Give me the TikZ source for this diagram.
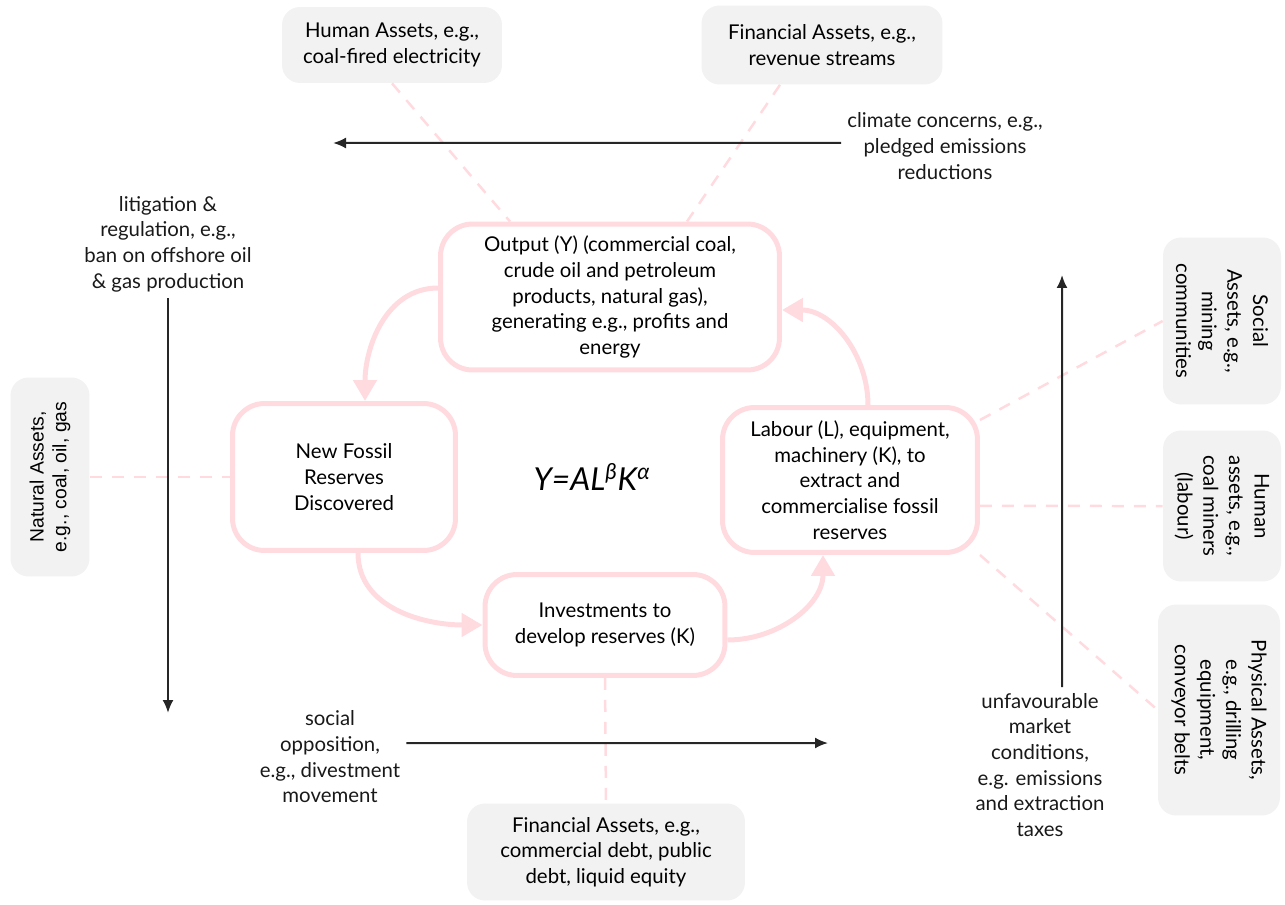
\documentclass[tikz,border=0pt]{standalone}
\usepackage{fontspec}
\setmainfont{Lato}
\newfontfamily\natfont{Liberation Sans}
\usepackage{xcolor}
\usetikzlibrary{arrows.meta,calc}
\definecolor{pinkline}{RGB}{255,219,224}
\definecolor{assetgray}{RGB}{242,242,242}

\begin{document}
\begin{tikzpicture}[x=0.02cm,y=0.02cm,
    font=\fontsize{11.6}{14.6}\selectfont,
    flowbox/.style={draw=pinkline,line width=0.1cm,rounded corners=0.64cm,fill=white,align=center},
    assetbox/.style={fill=assetgray,rounded corners=0.36cm,align=center},
    pinkflow/.style={draw=pinkline,line width=0.1cm,-{Triangle[length=0.42cm,width=0.46cm]}},
    pinklink/.style={draw=pinkline,line width=0.05cm,dash pattern=on 0.24cm off 0.2cm},
    driver/.style={draw=black!85,line width=0.04cm,-{Latex[length=0.26cm,width=0.22cm]}},
    note/.style={align=center,text=black!90}]
    \useasboundingbox (0,0) rectangle (1285,904);
    % the four stages of the cycle
    \node[flowbox,minimum width=6.78cm,minimum height=2.92cm] (out) at (610,607) {Output (Y) (commercial coal,\\crude oil and petroleum\\products, natural gas),\\generating e.g., profits and\\energy};
    \node[flowbox,minimum width=4.46cm,minimum height=2.94cm] (fossil) at (344,427) {New Fossil\\Reserves\\Discovered};
    \node[flowbox,minimum width=4.8cm,minimum height=2.02cm] (inv) at (605,279) {Investments to\\develop reserves (K)};
    \node[flowbox,minimum width=5.1cm,minimum height=2.9cm] (lab) at (850,424) {Labour (L), equipment,\\machinery (K), to\\extract and\\commercialise fossil\\reserves};
    \node (cobb) at (592,427) {\fontsize{18}{20}\selectfont\itshape Y=AL\textsuperscript{β}K\textsuperscript{α}};
    % assets
    \node[assetbox,minimum width=4.4cm,minimum height=1.52cm] (humTop) at (392,859) {Human Assets, e.g.,\\coal-fired electricity};
    \node[assetbox,minimum width=4.82cm,minimum height=1.58cm] (finTop) at (822,859) {Financial Assets, e.g.,\\revenue streams};
    \node[assetbox,rotate=90,minimum width=3.98cm,minimum height=1.58cm,font=\natfont\fontsize{11}{13}\selectfont] (nat) at (50,427) {Natural Assets,\\e.g., coal, oil, gas};
    \node[assetbox,rotate=-90,minimum width=3.34cm,minimum height=2.36cm] (soc) at (1222,583) {Social\\Assets, e.g.,\\mining\\communities};
    \node[assetbox,rotate=-90,minimum width=3.02cm,minimum height=2.36cm] (humR) at (1222,398) {Human\\assets, e.g.,\\coal miners\\(labour)};
    \node[assetbox,rotate=-90,minimum width=4.22cm,minimum height=2.44cm] (phys) at (1219,194) {Physical Assets,\\e.g., drilling\\equipment,\\conveyor belts};
    \node[assetbox,minimum width=5.56cm,minimum height=1.94cm] (finBot) at (606,52) {Financial Assets, e.g.,\\commercial debt, public\\debt, liquid equity};
    % pressures
    \node[note] (climate) at (945,758) {climate concerns, e.g.,\\pledged emissions\\reductions};
    \node[note] (litig) at (168,660) {litigation \&\\regulation, e.g.,\\ban on offshore oil\\\& gas production};
    \node[note] (social) at (330,147) {social\\opposition,\\e.g., divestment\\movement};
    \node[note] (market) at (1040,139) {unfavourable\\market\\conditions,\\e.g. emissions\\and extraction\\taxes};
    \coordinate (climEnd) at (333,761);
    \coordinate (litEnd) at (168,191);
    \coordinate (socEnd) at (828,161);
    \coordinate (mktEnd) at (1062,629);

    \draw[pinklink] (humTop.south) -- ([xshift=-2cm]out.north);
    \draw[pinklink] ([xshift=-0.84cm]finTop.south) -- ([xshift=1.54cm]out.north);
    \draw[pinklink] (nat) -- (fossil);
    \draw[pinklink] ([yshift=1.2cm]lab.east) -- (soc.south);
    \draw[pinklink] ([yshift=-0.52cm]lab.east) -- (humR.south);
    \draw[pinklink] (lab.south east) -- (phys.south);
    \draw[pinklink] (inv.south) -- (finBot.north);

    \draw[pinkflow] ([yshift=0.18cm]out.west) to[out=180,in=90] ([xshift=0.42cm]fossil.north);
    \draw[pinkflow] ([xshift=0.28cm]fossil.south) to[out=-90,in=180] (inv.west);
    \draw[pinkflow] ([yshift=-0.3cm]inv.east) to[out=0,in=-90] ([xshift=-0.54cm]lab.south);
    \draw[pinkflow] ([xshift=0.36cm]lab.north) to[out=90,in=0] ([yshift=-0.26cm]out.east);

    \draw[driver] ([yshift=0.06cm]climate.west) -- (climEnd);
    \draw[driver] (litig.south) -- (litEnd);
    \draw[driver] ([yshift=0.28cm]social.east) -- (socEnd);
    \draw[driver] ([xshift=0.44cm]market.north) -- (mktEnd);
\end{tikzpicture}
\end{document}
